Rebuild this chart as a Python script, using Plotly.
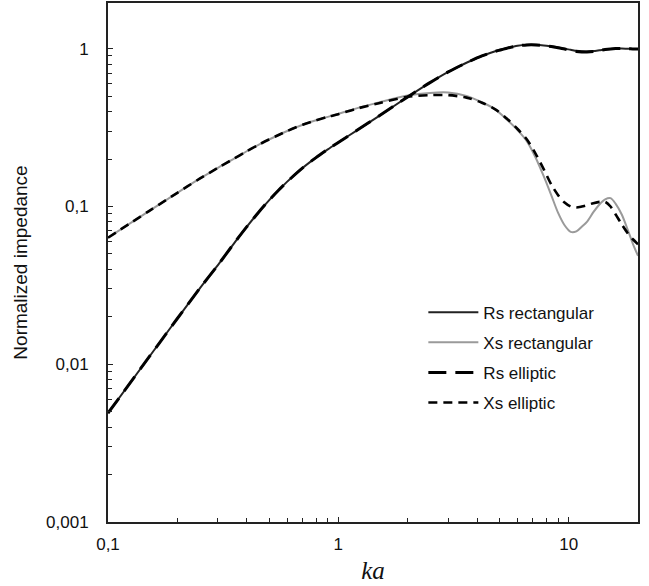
import plotly.graph_objects as go

ka = [0.1, 0.15, 0.2, 0.25, 0.3, 0.35, 0.4, 0.45, 0.5, 0.55, 0.6, 0.7, 0.8, 0.9,
      1.0, 1.2, 1.5, 2.0, 2.5, 3.0, 3.6, 4.2, 4.8, 5.4, 6.0, 6.6, 7.2, 7.8, 8.4,
      9.0, 9.6, 10.2, 10.8, 11.4, 12.0, 12.8, 13.6, 14.4, 15.2, 16.0, 17.0, 18.0,
      19.0, 20.0]

rs_rect = [0.0049, 0.011, 0.0195, 0.0302, 0.0425, 0.0576, 0.0742, 0.0917, 0.1094,
           0.1268, 0.1438, 0.1757, 0.2041, 0.2302, 0.2548, 0.303, 0.3745, 0.495,
           0.61, 0.713, 0.815, 0.90, 0.965, 1.01, 1.045, 1.06, 1.06, 1.05, 1.035,
           1.02, 1.0, 0.985, 0.97, 0.963, 0.962, 0.966, 0.978, 0.99, 0.998, 1.002,
           1.003, 1.0, 0.998, 0.998]

xs_rect = [0.0634, 0.0932, 0.1221, 0.150, 0.176, 0.200, 0.224, 0.246, 0.266, 0.284,
           0.301, 0.330, 0.352, 0.370, 0.386, 0.419, 0.457, 0.505, 0.525, 0.528,
           0.502, 0.458, 0.413, 0.355, 0.305, 0.258, 0.203, 0.155, 0.118, 0.091,
           0.076, 0.069, 0.0695, 0.0745, 0.080, 0.092, 0.103, 0.111, 0.113, 0.104,
           0.089, 0.072, 0.058, 0.0487]

rs_ell = [0.0049, 0.011, 0.0195, 0.0302, 0.0425, 0.0576, 0.0742, 0.0917, 0.1094,
          0.1268, 0.1438, 0.1757, 0.2041, 0.2302, 0.2548, 0.303, 0.3745, 0.495,
          0.61, 0.713, 0.815, 0.90, 0.963, 1.008, 1.043, 1.058, 1.058, 1.048, 1.032,
          1.015, 0.995, 0.978, 0.962, 0.955, 0.955, 0.962, 0.976, 0.99, 0.998, 1.002,
          1.003, 1.0, 0.998, 0.998]

xs_ell = [0.0634, 0.0932, 0.1221, 0.150, 0.176, 0.200, 0.224, 0.246, 0.266, 0.284,
          0.301, 0.330, 0.352, 0.370, 0.385, 0.417, 0.452, 0.496, 0.508, 0.508,
          0.490, 0.455, 0.413, 0.360, 0.310, 0.265, 0.215, 0.172, 0.138, 0.118,
          0.106, 0.100, 0.0986, 0.100, 0.102, 0.105, 0.107, 0.107, 0.100, 0.089,
          0.077, 0.068, 0.062, 0.0577]

x_major = [0.1, 1, 10]
x_major_text = ["0,1", "1", "10"]
y_major = [0.001, 0.01, 0.1, 1]
y_major_text = ["0,001", "0,01", "0,1", "1"]
x_minor = [m * d for d in (0.1, 1) for m in range(2, 10)]
y_minor = [m * d for d in (0.001, 0.01, 0.1) for m in range(2, 10)]

fig = go.Figure()
fig.add_trace(go.Scatter(x=ka, y=rs_rect, mode="lines", name="Rs rectangular",
                         legendgroup="a",
                         line=dict(color="#222222", width=2, shape="spline", smoothing=0.8)))
fig.add_trace(go.Scatter(x=ka, y=xs_rect, mode="lines", name="Xs rectangular",
                         legendgroup="b",
                         line=dict(color="#9a9a9a", width=2, shape="spline", smoothing=0.8)))
fig.add_trace(go.Scatter(x=ka, y=rs_ell, mode="lines", name="Rs elliptic",
                         legendgroup="c",
                         line=dict(color="#000000", width=3, dash="18px,9px",
                                   shape="spline", smoothing=0.8)))
fig.add_trace(go.Scatter(x=ka, y=xs_ell, mode="lines", name="Xs elliptic",
                         legendgroup="d",
                         line=dict(color="#000000", width=2.6, dash="9px,6px",
                                   shape="spline", smoothing=0.8)))

axis_common = dict(
    showgrid=False, zeroline=False, showline=True, linecolor="#222222", linewidth=2,
    mirror=True, ticks="inside", ticklen=5, tickwidth=1.2, tickcolor="#222222",
    tickfont=dict(size=17, color="#111111"), automargin=False,
)

fig.update_xaxes(type="log", range=[-1, 1.301], tickmode="array",
                 tickvals=x_major, ticktext=x_major_text, ticklabelstandoff=6,
                 minor=dict(tickmode="array", tickvals=x_minor, ticks="inside",
                            ticklen=4, tickcolor="#222222", tickwidth=1.2),
                 title=dict(text="<i>ka</i>", standoff=8,
                            font=dict(family="Liberation Serif, Times New Roman, serif",
                                      size=25, color="#111111")),
                 **axis_common)
fig.update_yaxes(type="log", range=[-3, 0.29], tickmode="array",
                 tickvals=y_major, ticktext=y_major_text, ticklabelstandoff=14,
                 minor=dict(tickmode="array", tickvals=y_minor, ticks="inside",
                            ticklen=4, tickcolor="#222222", tickwidth=1.2),
                 title=dict(text="Normalized impedance", standoff=13,
                            font=dict(size=19, color="#111111")),
                 **axis_common)

fig.update_layout(
    width=649, height=586,
    margin=dict(l=108, r=11, t=3, b=64, autoexpand=False),
    paper_bgcolor="white", plot_bgcolor="white",
    font=dict(family="Liberation Sans, Arial, sans-serif", size=17, color="#111111"),
    legend=dict(x=0.595, y=0.438, xanchor="left", yanchor="top",
                bgcolor="rgba(0,0,0,0)", borderwidth=0,
                font=dict(size=17, color="#111111"),
                tracegroupgap=5, itemwidth=50),
    showlegend=True,
)

fig.write_html("out.html", config={"displayModeBar": False},
               post_script="document.body.style.margin='0';document.body.style.padding='0';")
